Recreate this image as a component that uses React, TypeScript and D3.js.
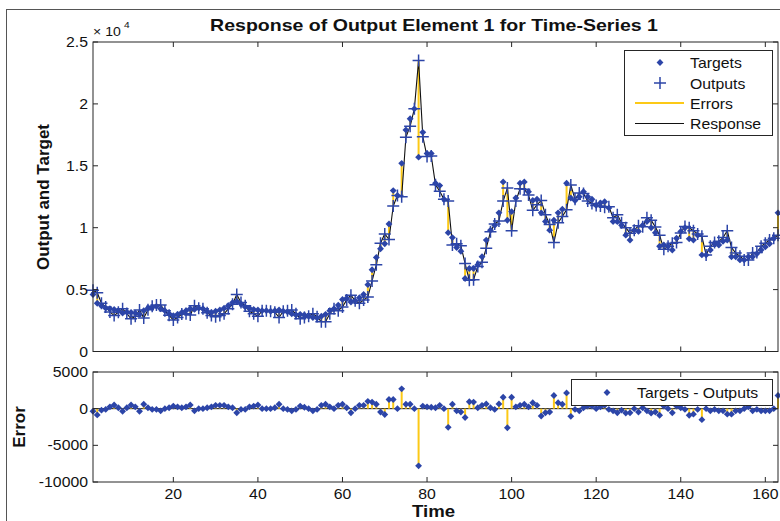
import React from 'react'
import * as d3 from 'd3'

// time-series 1, output element 1
const targets = [
  4600, 3900, 3700, 3500, 3450, 3400, 3300, 3100, 3200, 3150,
  3100, 3000, 3300, 3500, 3550, 3650, 3450, 3300, 3050, 2900,
  3000, 3150, 3300, 3450, 3400, 3500, 3450, 3250, 3150, 3250,
  3350, 3500, 3700, 3950, 4050, 3850, 3600, 3500, 3400, 3350,
  3300, 3300, 3250, 3300, 3350, 3250, 3200, 3050, 2950, 3000,
  2950, 2850, 2750, 2700, 2850, 3000, 3300, 3450, 3750, 4200,
  4300, 4000, 4100, 4350, 4600, 5400, 6600, 7600, 8300, 8700,
  10300, 13000, 12600, 15200, 17900, 18800, 19600, 15700, 17700, 16000,
  16000, 13600, 13400, 12300, 9600, 9200, 8400, 8100, 5900, 6700,
  6700, 7000, 7650, 9000, 9800, 10200, 11200, 13700, 10600, 11300,
  12400, 13600, 13700, 12900, 12200, 12300, 11200, 10500, 9800, 10600,
  11200, 11500, 13600, 12400, 12200, 12500, 12900, 12500, 12300, 11800,
  12000, 12100, 11600, 10500, 10500, 10200, 9400, 9000, 9800, 9700,
  10200, 10500, 10000, 9600, 8500, 8600, 8500, 8200, 9150, 9700,
  10000, 9100, 9000, 9400, 7800, 7800, 8200, 8700, 8600, 8900,
  9000, 7650, 7650, 7400, 7400, 7650, 7650, 7900, 8200, 8450,
  8700, 9150, 11200,
]

// targets - outputs
const errors = [
  -350, -850, -200, -100, 250, 500, 130, -350, 130, 500,
  250, -350, 600, 130, -100, -100, -300, 0, 130, 350,
  250, 130, 250, 500, -300, 0, 0, 130, 250, 450,
  450, 450, 250, 130, -550, -100, -100, 250, 350, 500,
  0, 0, 0, 130, 600, 0, -100, -300, -100, 350,
  200, 0, -300, -100, 450, 600, 250, 0, 450, 600,
  130, -550, 0, 450, 450, 1000, 900, 600, -450, -800,
  1250, 1250, 0, 2700, 600, 600, 0, -7800, 350, 250,
  200, 130, 450, 0, -2550, 600, -300, -450, -1200, 950,
  900, 130, 450, 650, 130, -100, 650, 1550, -2600, 1550,
  250, 450, 600, 250, 800, 450, -1000, -550, -450, 1800,
  800, 600, 2150, -1050, -100, -300, 130, 350, 350, 0,
  250, 450, -100, -300, -550, -200, -600, -550, 0, -450,
  130, -300, -600, -450, -900, 350, 0, -550, 350, 130,
  -100, -900, -750, -100, -1500, 0, -300, -100, -300, -300,
  -750, -750, -300, -300, 0, 250, -300, -100, -300, -300,
  -300, 0, 1800,
]

const outputs = targets.map((v, i) => v - errors[i])
const timeSteps = targets.map((_, i) => i + 1)

const xTicks = [20, 40, 60, 80, 100, 120, 140, 160]
const yTicksTop = [0, 0.5, 1, 1.5, 2, 2.5]
const yTicksErr = [5000, 0, -5000, -10000]

const W = 780
const H = 521
const BLUE = '#2c45a8'
const YELLOW = '#fcc917'
const AXIS = '#262626'
const FONT = '"Liberation Sans", Arial, sans-serif'
const SX = 1.13 // picture is a little stretched sideways

function SText({ x, y, anchor = 'start', size = 14, bold = false, children }: any) {
  return (
    <text
      transform={`translate(${x},${y}) scale(${SX},1)`}
      textAnchor={anchor}
      fontSize={size}
      fontWeight={bold ? 'bold' : 'normal'}
      fontFamily={FONT}
      fill="#111"
    >
      {children}
    </text>
  )
}

const plus = (x: number, y: number, s = 6) => `M${x - s},${y}H${x + s}M${x},${y - s}V${y + s}`
const dot = d3.symbol().type(d3.symbolDiamond2).size(30)

export default function App() {
  const x = d3.scaleLinear().domain([1, 163]).range([93, 778])
  const yTop = d3.scaleLinear().domain([0, 25000]).range([351.5, 42])
  const yErr = d3.scaleLinear().domain([-10000, 5000]).range([482, 372])

  const response = d3.line<number>()
    .x((_, i) => x(timeSteps[i]))
    .y(d => yTop(d))(outputs)

  const axesBox = (y0: number, y1: number, yScale: any, yTicks: number[], key: string) => (
    <g key={key} stroke={AXIS} strokeWidth={1} fill="none">
      <rect x={x(1)} y={y0} width={x(163) - x(1)} height={y1 - y0} />
      {xTicks.map(t => (
        <g key={t}>
          <line x1={x(t)} x2={x(t)} y1={y1} y2={y1 - 5} />
          <line x1={x(t)} x2={x(t)} y1={y0} y2={y0 + 5} />
        </g>
      ))}
      {yTicks.map(t => (
        <g key={t}>
          <line x1={x(1)} x2={x(1) + 5} y1={yScale(t)} y2={yScale(t)} />
          <line x1={x(163)} x2={x(163) - 5} y1={yScale(t)} y2={yScale(t)} />
        </g>
      ))}
    </g>
  )

  return (
    <svg width={W} height={H} style={{ position: 'fixed', left: 0, top: 0, background: '#fff' }}>
      <rect x={6.5} y={9.5} width={900} height={700} fill="none" stroke="#555" />

      <SText x={434} y={30.5} anchor="middle" size={17.3} bold>
        Response of Output Element 1 for Time-Series 1
      </SText>

      {/* top panel */}
      <g>
        {timeSteps.map((t, i) => (
          <line key={t} x1={x(t)} x2={x(t)} y1={yTop(targets[i])} y2={yTop(outputs[i])}
            stroke={YELLOW} strokeWidth={2} />
        ))}
        <path d={response || ''} fill="none" stroke="#111" strokeWidth={1.1} />
        {timeSteps.map((t, i) => (
          <path key={t} d={dot() || ''} transform={`translate(${x(t)},${yTop(targets[i])})`} fill={BLUE} />
        ))}
        <path d={timeSteps.map((t, i) => plus(x(t), yTop(outputs[i]))).join('')}
          stroke={BLUE} strokeWidth={1.5} fill="none" />
      </g>
      {axesBox(42, 351.5, (v: number) => yTop(v * 10000), yTicksTop, 'top')}
      {yTicksTop.map(t => (
        <SText key={t} x={88} y={yTop(t * 10000) + 5} anchor="end">{String(t)}</SText>
      ))}
      <SText x={93} y={35.5} size={12.5}>× 10</SText>
      <SText x={124} y={27.5} size={9}>4</SText>
      <text transform="translate(48.5,197) rotate(-90)" textAnchor="middle" fontSize={17}
        fontWeight="bold" fontFamily={FONT} fill="#111">Output and Target</text>

      {/* legend top */}
      <g>
        <rect x={624.5} y={50.5} width={148} height={85} fill="#fff" stroke={AXIS} />
        <path d={dot() || ''} transform="translate(660,62.5)" fill={BLUE} />
        <path d={plus(660, 83)} stroke={BLUE} strokeWidth={1.5} />
        <line x1={635} x2={684} y1={103} y2={103} stroke={YELLOW} strokeWidth={2} />
        <line x1={635} x2={684} y1={123.5} y2={123.5} stroke="#111" strokeWidth={1.1} />
        <SText x={690} y={68}>Targets</SText>
        <SText x={690} y={88.5}>Outputs</SText>
        <SText x={690} y={108.5}>Errors</SText>
        <SText x={690} y={129}>Response</SText>
      </g>

      {/* error panel */}
      <g>
        <line x1={x(1)} x2={x(163)} y1={yErr(0)} y2={yErr(0)} stroke="#111" strokeWidth={1} />
        {timeSteps.map((t, i) => (
          <line key={t} x1={x(t)} x2={x(t)} y1={yErr(0)} y2={yErr(errors[i])}
            stroke={YELLOW} strokeWidth={2} />
        ))}
        {timeSteps.map((t, i) => (
          <path key={t} d={dot() || ''} transform={`translate(${x(t)},${yErr(errors[i])})`} fill={BLUE} />
        ))}
      </g>
      <g>
        <rect x={571.5} y={379.5} width={201} height={26} fill="#fff" stroke={AXIS} />
        <path d={dot() || ''} transform="translate(607,392.5)" fill={BLUE} />
        <SText x={637} y={398}>Targets - Outputs</SText>
      </g>
      {axesBox(372, 482, yErr, yTicksErr, 'err')}
      {yTicksErr.map(t => (
        <SText key={t} x={88} y={yErr(t) + 5} anchor="end">{String(t)}</SText>
      ))}
      {xTicks.map(t => (
        <SText key={t} x={x(t)} y={499} anchor="middle">{String(t)}</SText>
      ))}
      <SText x={433.5} y={516.5} anchor="middle" size={16.5} bold>Time</SText>
      <text transform="translate(24.5,427) rotate(-90)" textAnchor="middle" fontSize={17}
        fontWeight="bold" fontFamily={FONT} fill="#111">Error</text>
    </svg>
  )
}
